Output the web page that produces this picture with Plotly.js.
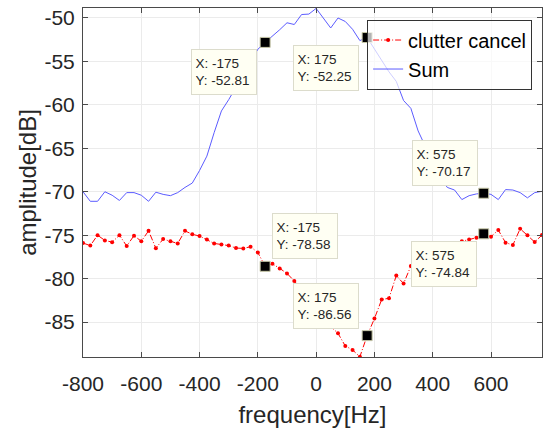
<!DOCTYPE html>
<html>
<head>
<meta charset="utf-8">
<script src="https://cdn.plot.ly/plotly-3.0.1.min.js"></script>
<style>
  html, body { margin: 0; padding: 0; background: #ffffff; }
  #chart { width: 544px; height: 428px; }
</style>
</head>
<body>
<div id="chart"></div>
<script>
// Frequency axis (Hz), step 25
const frequency = [
  -800, -775, -750, -725, -700, -675, -650, -625, -600, -575, -550, -525, -500, -475, -450, -425,
  -400, -375, -350, -325, -300, -275, -250, -225, -200, -175, -150, -125, -100, -75, -50, -25,
  0, 25, 50, 75, 100, 125, 150, 175, 200, 225, 250, 275, 300, 325, 350, 375,
  400, 425, 450, 475, 500, 525, 550, 575, 600, 625, 650, 675, 700, 725, 750, 775
];

// "clutter cancel" amplitude (dB)
const clutterCancel = [
  -75.9, -76.2, -75.0, -75.6, -75.8, -75.0, -76.25, -75.05, -75.7, -74.5, -76.5, -75.45, -75.7, -75.95, -74.5, -74.9,
  -75.1, -75.5, -75.95, -76.07, -76.2, -76.48, -76.52, -76.33, -77.0, -78.58, -78.3, -78.82, -79.4, -80.27, -81.3, -82.2,
  -83.4, -84.3, -85.5, -86.3, -87.75, -88.2, -89.0, -86.56, -84.6, -82.4, -82.26, -79.65, -80.57, -78.55, -77.9, -77.3,
  -76.9, -76.5, -76.2, -75.9, -75.7, -75.5, -75.29, -74.84, -75.17, -74.41, -75.86, -76.13, -74.26, -75.02, -75.79, -74.98
];

// "Sum" amplitude (dB)
const sumValues = [
  -70.0, -71.1, -71.1, -70.0, -70.4, -71.0, -70.1, -70.1, -70.4, -71.1, -70.05, -70.3, -70.45, -70.1, -69.5, -69.0,
  -67.55, -65.9, -63.2, -60.7, -59.4, -58.0, -56.5, -55.0, -53.6, -52.81, -52.1, -51.35, -50.55, -50.75, -49.6, -49.55,
  -48.9, -50.1, -51.15, -50.0, -50.4, -51.3, -52.6, -52.25, -53.6, -55.0, -56.2, -57.3, -59.5, -60.4, -63.0, -64.8,
  -66.6, -68.3, -69.5, -69.8, -70.9, -70.45, -70.25, -70.17, -70.3, -70.9, -69.75, -69.8, -70.1, -70.7, -70.1, -69.95
];

// Data tip frequencies
const tipFrequencies = [-175, 175, 575];

// Tick values
const xTicks = [-800, -600, -400, -200, 0, 200, 400, 600];
const yTicks = [-85, -80, -75, -70, -65, -60, -55, -50];

const FONT = '"Liberation Sans", Arial, Helvetica, sans-serif';
const TXT = '#262626';

const traces = [
  {
    x: frequency, y: clutterCancel, name: 'clutter cancel', type: 'scatter', mode: 'lines+markers',
    line: { color: '#ff0000', width: 1, dash: '6px,2px,1px,2px' },
    marker: { color: '#ff0000', size: 4 }
  },
  {
    x: frequency, y: sumValues, name: 'Sum', type: 'scatter', mode: 'lines',
    line: { color: '#5c5cff', width: 1 }
  }
];

// Data tip markers
const tipX = [], tipY = [];
const seriesList = [sumValues, clutterCancel];
seriesList.forEach(s => {
  tipFrequencies.forEach(f => {
    const i = frequency.indexOf(f);
    tipX.push(f); tipY.push(s[i]);
  });
});
traces.push({
  x: tipX, y: tipY, type: 'scatter', mode: 'markers', showlegend: false, hoverinfo: 'skip',
  marker: { symbol: 'square', size: 10, color: '#000000', line: { color: '#c8c8a8', width: 1 } }
});

// Annotation placements (style only)
const tipStyle = [
  // Sum
  { xa: 'right', ya: 'top', dx: -8, dy: -7 },
  { xa: 'right', ya: 'top', dx: -8, dy: -7 },
  { xa: 'right', ya: 'bottom', dx: -6, dy: 7 },
  // clutter cancel
  { xa: 'left', ya: 'bottom', dx: 7, dy: 7 },
  { xa: 'right', ya: 'bottom', dx: -8, dy: 7 },
  { xa: 'right', ya: 'top', dx: -7, dy: -7 }
];

const annotations = tipX.map((f, k) => ({
  x: f, y: tipY[k], xref: 'x', yref: 'y', showarrow: false,
  xanchor: tipStyle[k].xa, yanchor: tipStyle[k].ya,
  xshift: tipStyle[k].dx, yshift: tipStyle[k].dy,
  text: 'X: ' + f + '<br>Y: ' + tipY[k].toFixed(2),
  align: 'left', valign: 'middle', width: 57, height: 37,
  font: { family: FONT, size: 13.5, color: TXT },
  bgcolor: '#fffff3', bordercolor: '#dcdccc', borderwidth: 1, borderpad: 3.5
}));

const layout = {
  width: 544, height: 428,
  margin: { l: 83, r: 2, t: 8, b: 70.5 },
  paper_bgcolor: '#ffffff', plot_bgcolor: '#ffffff',
  font: { family: FONT, color: TXT },
  showlegend: true,
  legend: {
    x: 0.619, y: 0.967, xanchor: 'left', yanchor: 'top',
    bgcolor: 'rgba(255,255,255,0.7)', bordercolor: '#333333', borderwidth: 1,
    font: { family: FONT, size: 20, color: '#000000' }
  },
  xaxis: {
    range: [-800, 775], tickvals: xTicks, ticktext: xTicks.map(String),
    showgrid: true, gridcolor: '#ebebeb', gridwidth: 1, zeroline: false,
    showline: true, linecolor: '#4a4a4a', linewidth: 1, mirror: 'ticks',
    ticks: 'inside', ticklen: 5, tickcolor: '#4a4a4a',
    tickfont: { family: FONT, size: 21, color: TXT },
    ticklabelstandoff: 8,
    title: { text: 'frequency[Hz]', font: { family: FONT, size: 24, color: TXT }, standoff: 11 }
  },
  yaxis: {
    range: [-89.02, -48.85], tickvals: yTicks, ticktext: yTicks.map(String),
    showgrid: true, gridcolor: '#ebebeb', gridwidth: 1, zeroline: false,
    showline: true, linecolor: '#4a4a4a', linewidth: 1, mirror: 'ticks',
    ticks: 'inside', ticklen: 5, tickcolor: '#4a4a4a',
    tickfont: { family: FONT, size: 21, color: TXT },
    ticklabelstandoff: 3,
    title: { text: 'amplitude[dB]', font: { family: FONT, size: 24, color: TXT }, standoff: 1 }
  },
  annotations: annotations
};

Plotly.newPlot('chart', traces, layout, { displayModeBar: false, staticPlot: true });
</script>
</body>
</html>
